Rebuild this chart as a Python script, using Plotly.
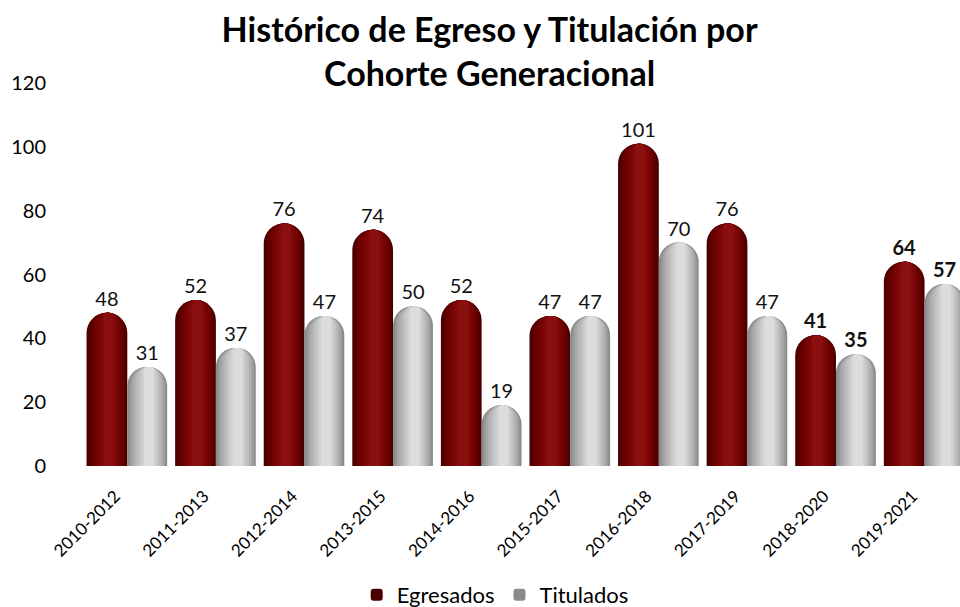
import plotly.graph_objects as go

categories = ["2010-2012", "2011-2013", "2012-2014", "2013-2015", "2014-2016",
              "2015-2017", "2016-2018", "2017-2019", "2018-2020", "2019-2021"]
egresados = [48, 52, 76, 74, 52, 47, 101, 76, 41, 64]
titulados = [31, 37, 47, 50, 19, 47, 70, 47, 35, 57]
bold_idx = [8, 9]
y_ticks = [0, 20, 40, 60, 80, 100, 120]

FONT = "Century Gothic, Lato, sans-serif"
x = list(range(len(categories)))

def labels(vals):
    return [f"<b>{v}</b>" if i in bold_idx else str(v) for i, v in enumerate(vals)]

fig = go.Figure()

def add_series(name, vals, off, w, shades):
    fig.add_trace(go.Bar(
        x=x, y=vals, name=name, offset=off, width=w,
        marker=dict(color=shades[0], cornerradius="50%", line=dict(width=0)),
        text=labels(vals), textposition="outside",
        textfont=dict(size=20, color="#111", family=FONT),
        cliponaxis=False, showlegend=True, legendgroup=name,
    ))
    n = len(shades)
    for k in range(1, n):
        frac = 1 - k / n * 0.85
        ww = w * frac
        oo = off + (w - ww) / 2 + w * 0.05 * (k / n)
        fig.add_trace(go.Bar(
            x=x, y=vals, offset=oo, width=ww, name=name,
            marker=dict(color=shades[k], cornerradius="50%", line=dict(width=0)),
            showlegend=False, legendgroup=name, hoverinfo="skip",
        ))

add_series("Egresados", egresados, -0.46, 0.46,
           ["#4a0000", "#560000", "#620000", "#6a0101", "#710303", "#770505",
            "#7d0707", "#830a0a", "#8a0f0f"])
add_series("Titulados", titulados, 0.0, 0.45,
           ["#8a8a8a", "#999999", "#a6a6a6", "#b0b0b0", "#b9b9b9", "#c2c2c2",
            "#cacaca", "#d2d2d2", "#dcdcdc"])

fig.update_layout(
    width=960, height=607,
    barmode="overlay",
    plot_bgcolor="white", paper_bgcolor="white",
    margin=dict(l=83, r=0, t=83, b=141),
    font=dict(family=FONT, color="#000"),
    title=dict(text="<b>Histórico de Egreso y Titulación por<br>Cohorte Generacional</b>",
               x=0.51, xanchor="center", y=1 - 42 / 607, yanchor="middle", yref="container",
               font=dict(size=34, family=FONT, color="#000")),
    xaxis=dict(tickvals=x, ticktext=categories, range=[-0.5, 9.4],
               tickangle=-45, tickfont=dict(size=17), showgrid=False,
               showline=False, zeroline=False, ticks="",
               ticklabelstandoff=16, ticklabelshift=-12),
    yaxis=dict(range=[0, 120], tickvals=y_ticks, tickfont=dict(size=20),
               showgrid=False, zeroline=False, showline=False, ticks="",
               ticklabelstandoff=36),
    legend=dict(orientation="h", x=0.47, xanchor="center", y=12 / 607, yref="container",
                yanchor="middle", font=dict(size=22), traceorder="normal",
                itemwidth=30),
    showlegend=True,
)

fig.write_html("out.html", post_script="document.body.style.margin='0';",
               config={"displayModeBar": False})
